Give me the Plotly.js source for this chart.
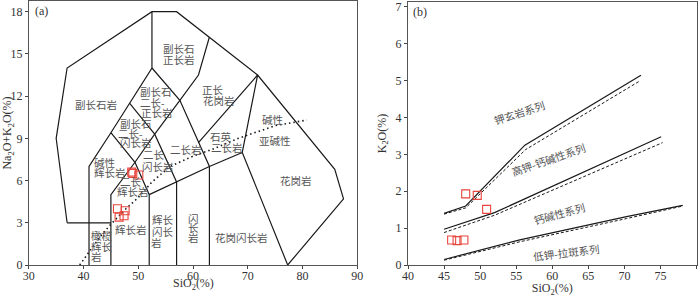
<!DOCTYPE html>
<html><head><meta charset="utf-8">
<script src="https://cdn.plot.ly/plotly-3.0.1.min.js"></script>
<style>html,body{margin:0;padding:0;background:#fff}#chart{width:700px;height:297px}</style>
</head><body><div id="chart"></div>
<script>
// ---------- Panel (a): TAS boundaries (SiO2, Na2O+K2O) ----------
const outerX = [37, 35, 37, 52.5, 57, 63, 71.8, 85.9, 87.5, 77.3];
const outerY = [3, 9, 14, 18, 18, 16.2, 13.5, 6.8, 4.7, 0];
const peridotTopX = [37, 45];
const peridotTopY = [3, 3];
const line41X = [41, 41, 45, 48.4, 52.5, 52.5];
const line41Y = [0, 7, 9.4, 11.5, 14, 18];
const line45X = [45, 45, 49.4, 53, 57.6, 61, 63];
const line45Y = [0, 5, 7.3, 9.3, 11.7, 13.5, 16.2];
const line52X = [45, 49.4, 52, 52];
const line52Y = [9.4, 7.3, 5, 0];
const line57X = [48.4, 53, 57, 57];
const line57Y = [11.5, 9.3, 5.9, 0];
const baseX = [52, 57, 63, 69, 77.3];
const baseY = [5, 5.9, 7, 8, 0];
const line63X = [52.5, 57.6, 63, 63];
const line63Y = [14, 11.7, 7, 0];
const qmzX = [61, 71.8, 69];
const qmzY = [8.7, 13.5, 8];
// Irvine & Baragar alkaline / subalkaline divide (dotted)
const ibX = [39.3, 41.2, 43, 45, 47.5, 50, 52.5, 55.8, 59.8, 63.4, 68.3, 75, 80.8];
const ibY = [0, 1.0, 2.0, 2.9, 3.9, 4.8, 5.9, 7.0, 7.7, 8.2, 9.0, 9.9, 10.3];
// samples (a)
const sampleA_SiO2 = [46.2, 46.5, 47.4, 47.6, 48.8, 49.0, 50.1];
const sampleA_Alk  = [4.0, 3.4, 3.5, 3.85, 6.6, 6.5, 6.4];

// ---------- Panel (b): K2O vs SiO2 ----------
const shoSolidX = [45, 48, 56.2, 72.3];
const shoSolidY = [1.4, 1.6, 3.25, 5.15];
const shoDashX  = [45, 48, 56.3, 72.2];
const shoDashY  = [1.38, 1.55, 3.13, 5.0];
const hkSolidX = [45, 52, 75.1];
const hkSolidY = [0.97, 1.42, 3.48];
const hkDashX  = [45, 52, 75.3];
const hkDashY  = [0.88, 1.35, 3.32];
const lkSolidX = [45, 55.5, 70.3, 78.1];
const lkSolidY = [0.15, 0.68, 1.31, 1.62];
const lkDashX  = [45, 55.5, 70.3, 78.1];
const lkDashY  = [0.13, 0.63, 1.26, 1.6];
// samples (b)
const sampleB_SiO2 = [48.0, 49.6, 50.9, 46.05, 46.8, 47.75];
const sampleB_K2O  = [1.93, 1.89, 1.51, 0.68, 0.66, 0.68];

function joinSegs(segs){
  const x=[],y=[];
  segs.forEach((s,i)=>{ if(i){x.push(null);y.push(null);} x.push(...s[0]); y.push(...s[1]); });
  return {x,y};
}
const tas = joinSegs([[outerX,outerY],[peridotTopX,peridotTopY],[line41X,line41Y],[line45X,line45Y],
  [line52X,line52Y],[line57X,line57Y],[baseX,baseY],[line63X,line63Y],[qmzX,qmzY]]);

const red = '#e8453c';
const traces = [
  {x:tas.x,y:tas.y,xaxis:'x',yaxis:'y',mode:'lines',line:{color:'#1a1a1a',width:1.2},hoverinfo:'skip',showlegend:false},
  {x:ibX,y:ibY,xaxis:'x',yaxis:'y',mode:'lines',line:{color:'#1a1a1a',width:1.6,dash:'1.5px,3px'},showlegend:false},
  {x:sampleA_SiO2,y:sampleA_Alk,xaxis:'x',yaxis:'y',mode:'markers',marker:{symbol:'square-open',size:8,color:red,line:{width:1.1}},showlegend:false},
  {x:shoSolidX,y:shoSolidY,xaxis:'x2',yaxis:'y2',mode:'lines',line:{color:'#1a1a1a',width:1.2},showlegend:false},
  {x:shoDashX,y:shoDashY,xaxis:'x2',yaxis:'y2',mode:'lines',line:{color:'#1a1a1a',width:1,dash:'3px,2px'},showlegend:false},
  {x:hkSolidX,y:hkSolidY,xaxis:'x2',yaxis:'y2',mode:'lines',line:{color:'#1a1a1a',width:1.2},showlegend:false},
  {x:hkDashX,y:hkDashY,xaxis:'x2',yaxis:'y2',mode:'lines',line:{color:'#1a1a1a',width:1,dash:'3px,2px'},showlegend:false},
  {x:lkSolidX,y:lkSolidY,xaxis:'x2',yaxis:'y2',mode:'lines',line:{color:'#1a1a1a',width:1.2},showlegend:false},
  {x:lkDashX,y:lkDashY,xaxis:'x2',yaxis:'y2',mode:'lines',line:{color:'#1a1a1a',width:1,dash:'3px,2px'},showlegend:false},
  {x:sampleB_SiO2,y:sampleB_K2O,xaxis:'x2',yaxis:'y2',mode:'markers',marker:{symbol:'square-open',size:8,color:red,line:{width:1.1}},showlegend:false}
];

const cjk = {family:'"Noto Sans CJK SC", "Noto Sans", sans-serif', size:10.5, color:'#555'};
function lab(t,x,y,xr,yr,ang){
  return {text:t,x:x,y:y,xref:xr,yref:yr,showarrow:false,font:cjk,textangle:ang||0,xanchor:'center',yanchor:'middle',borderpad:0};
}
// one entry per printed line, so the tight line spacing of the reference is kept
const labelsA = [
  ['副长石岩',42.28,11.44],
  ['副长石',57.35,15.35],['正长岩',57.35,14.57],
  ['副长石',53.33,12.33],['二长-',52.6,11.58],['正长岩',53.42,10.87],
  ['副长石',49.58,10.09],['二长-',48.67,9.38],['闪长岩',49.58,8.67],
  ['碱性',43.92,7.25],['辉长岩',44.83,6.54],
  ['二长',48.67,5.9],['辉长岩',49.03,5.19],
  ['二长',52.87,7.82],['闪长岩',53.6,6.97],
  ['二长岩',58.72,8.24],
  ['石英',65.11,9.1],['二长岩',66.2,8.32],
  ['正长',63.65,12.44],['花岗岩',64.75,11.69],
  ['碱性',74.61,10.31],['亚碱性',74.98,8.88],
  ['花岗岩',78.81,6.04],
  ['花岗闪长岩',68.95,1.92],
  ['闪',60.0,3.34],['长',60.0,2.63],['岩',60.0,1.92],
  ['辉长',54.52,3.2],['闪长',54.52,2.35],['岩',53.42,1.63],
  ['辉长岩',48.67,2.49],
  ['橄榄',43.46,2.13],['辉长',43.46,1.35],['岩',42.28,0.57]
];
const labelsB = [
  ['钾玄岩系列',55.5,4.15,-18],
  ['高钾-钙碱性系列',59.5,2.85,-19],
  ['钙碱性系列',61.0,1.41,-15],
  ['低钾-拉斑系列',62.0,0.33,-7]
];
const annotations = labelsA.map(l=>lab(l[0],l[1],l[2],'x','y'))
  .concat(labelsB.map(l=>lab(l[0],l[1],l[2],'x2','y2',l[3])));
const serif = {family:'"Liberation Serif", "Times New Roman", serif', size:12, color:'#333'};
annotations.push({text:'(a)',x:32.4,y:18.05,xref:'x',yref:'y',showarrow:false,font:serif});
annotations.push({text:'(b)',x:41.66,y:6.86,xref:'x2',yref:'y2',showarrow:false,font:serif});
// x-axis title of panel (a), sitting tight under the tick labels as in the reference
annotations.push({text:'SiO<sub>2</sub>(%)',x:60,xref:'x',y:(297-283.5)/297,yref:'paper',yanchor:'middle',showarrow:false,font:serif});

const axBase = {ticks:'outside',ticklen:3,tickwidth:1,tickcolor:'#444',showline:true,mirror:true,linecolor:'#555',linewidth:1,
  showgrid:false,zeroline:false,tickfont:serif,fixedrange:true};
const layout = {
  width:700,height:297,margin:{l:0,r:0,t:0,b:0},paper_bgcolor:'#fff',plot_bgcolor:'#fff',
  font:serif,showlegend:false,
  xaxis:Object.assign({},axBase,{domain:[28.8/700,357.2/700],range:[30,90],dtick:10,anchor:'y',ticklabelstandoff:-3}),
  yaxis:Object.assign({},axBase,{domain:[32/297,296/297],range:[0,18.76],dtick:3,anchor:'x',
    title:{text:'Na<sub>2</sub>O+K<sub>2</sub>O(%)',font:serif,standoff:2}}),
  xaxis2:Object.assign({},axBase,{domain:[408/700,696.5/700],range:[40,80],dtick:5,anchor:'y2',ticklabelstandoff:-3,
    title:{text:'SiO<sub>2</sub>(%)',font:serif,standoff:10}}),
  yaxis2:Object.assign({},axBase,{domain:[32/297,295/297],range:[0,7.135],dtick:1,anchor:'x2',
    title:{text:'K<sub>2</sub>O(%)',font:serif,standoff:6}}),
  annotations:annotations
};
Plotly.newPlot('chart',traces,layout,{displayModeBar:false,staticPlot:true});
</script></body></html>
